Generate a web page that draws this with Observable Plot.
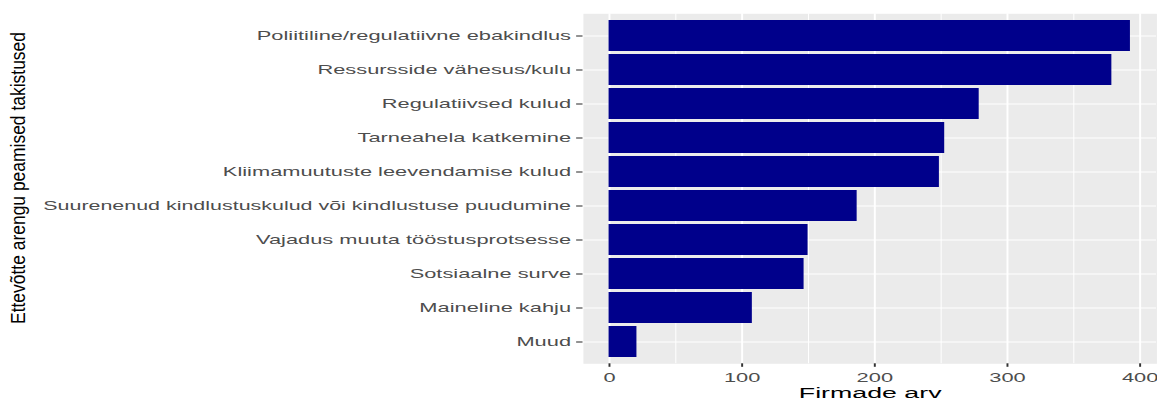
<!DOCTYPE html>
<html>
<head>
<meta charset="utf-8">
<script src="https://cdn.jsdelivr.net/npm/d3@7"></script>
<script src="https://cdn.jsdelivr.net/npm/@observablehq/plot@0.6"></script>
<style>
  html, body { margin: 0; padding: 0; background: #ffffff; }
  #chart { width: 1157px; height: 401px; overflow: hidden; }
</style>
</head>
<body>
<div id="chart"></div>
<script>
// ---- data ----
const categories = [
  "Poliitiline/regulatiivne ebakindlus",
  "Ressursside vähesus/kulu",
  "Regulatiivsed kulud",
  "Tarneahela katkemine",
  "Kliimamuutuste leevendamise kulud",
  "Suurenenud kindlustuskulud või kindlustuse puudumine",
  "Vajadus muuta tööstusprotsesse",
  "Sotsiaalne surve",
  "Maineline kahju",
  "Muud"
];
const counts = [393, 379, 279, 253, 249, 187, 150, 147, 108, 21];
const xTicks = [0, 100, 200, 300, 400];
const xMinorTicks = [50, 150, 250, 350];
const xTitle = "Firmade arv";
const yTitle = "Ettevõtte arengu peamised takistused";

const data = categories.map((c, i) => ({cat: c, count: counts[i]}));

// The reference image is stretched horizontally; draw in a narrower
// coordinate system and stretch the SVG to the page width.
const W = 1157, H = 401, S = 1.82;
const W0 = W / S;
const xMax = d3.max(counts);
const pad = 0.05 * xMax;
const panelLeft = 582.5 / S;
const panelRight = 1156 / S;
const panelTop = 13.3, panelBottom = 363.3;

const chart = Plot.plot({
  width: W0,
  height: H,
  marginLeft: panelLeft,
  marginRight: W0 - panelRight,
  marginTop: panelTop,
  marginBottom: H - panelBottom,
  style: {fontFamily: "'Liberation Sans', Arial, Helvetica, sans-serif", fontSize: "12px", background: "white", color: "#333333"},
  x: {domain: [-pad, xMax + pad]},
  y: {domain: categories, paddingInner: 0.1, paddingOuter: 0.15},
  marks: [
    Plot.frame({fill: "#EBEBEB", stroke: null}),
    Plot.gridX(xMinorTicks, {stroke: "white", strokeOpacity: 1, strokeWidth: 0.55}),
    Plot.gridX(xTicks, {stroke: "white", strokeOpacity: 1, strokeWidth: 1.07}),
    Plot.gridY(categories, {stroke: "white", strokeOpacity: 1, strokeWidth: 1.07}),
    Plot.barX(data, {x: "count", y: "cat", fill: "#00008B"}),
    Plot.axisX(xTicks, {tickSize: 3.5, tickPadding: 5.9, stroke: "#333333", strokeWidth: 1.07, fill: "#4D4D4D", label: null, fontSize: 12}),
    Plot.axisY(categories, {tickSize: 3.5, tickPadding: 3.3, stroke: "#333333", strokeWidth: 1.07, fill: "#4D4D4D", label: null, fontSize: 12}),
    Plot.text([xTitle], {frameAnchor: "bottom", dy: H - panelBottom - 3.5, lineAnchor: "bottom", fontSize: 14.7, fill: "black"}),
    Plot.text([yTitle], {frameAnchor: "left", rotate: -90, fontSize: 11.5, fill: "black"})
  ]
});

chart.setAttribute("preserveAspectRatio", "none");
chart.setAttribute("width", W);
chart.setAttribute("height", H);
chart.style.width = W + "px";
chart.style.height = H + "px";
chart.style.maxWidth = "none";

// place the rotated y-axis title at the left edge, centred near the panel
d3.select(chart).selectAll("text").filter(function() { return this.textContent === yTitle; })
  .each(function() {
    const t = d3.select(this);
    t.attr("dx", null).attr("x", null).attr("y", null)
     .attr("text-anchor", "middle")
     .attr("dy", "0.32em")
     .attr("transform", `translate(10,${178}) rotate(-90)`)
     .attr("textLength", 292)
     .attr("lengthAdjust", "spacingAndGlyphs");
    const g = this.parentNode;
    if (g && g.getAttribute("transform")) g.removeAttribute("transform");
  });

// the longest tick label is set slightly tighter in the reference
d3.select(chart).selectAll("text").filter(function() { return this.textContent === categories[5]; })
  .attr("textLength", 290)
  .attr("lengthAdjust", "spacingAndGlyphs");

document.getElementById("chart").appendChild(chart);
</script>
</body>
</html>
